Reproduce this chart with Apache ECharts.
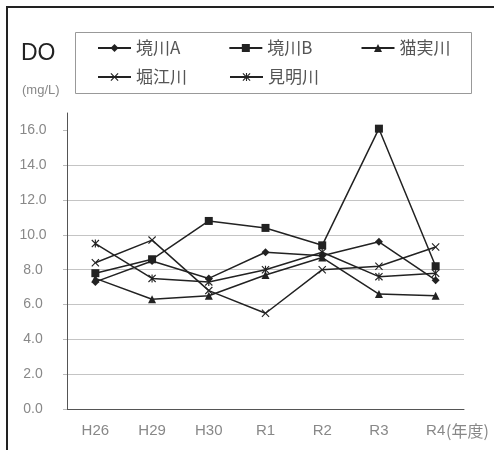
<!DOCTYPE html>
<html><head><meta charset="utf-8">
<script src="https://cdn.jsdelivr.net/npm/echarts@6/dist/echarts.min.js"></script>
<style>html,body{margin:0;padding:0;background:#fff}#c{width:494px;height:450px}</style>
</head><body><div id="c"></div>
<script>
const categories = ['H26', 'H29', 'H30', 'R1', 'R2', 'R3', 'R4'];
const sakaiA   = [7.3, 8.5, 7.5, 9.0, 8.8, 9.6, 7.4];
const sakaiB   = [7.8, 8.6, 10.8, 10.4, 9.4, 16.1, 8.2];
const nekozane = [7.5, 6.3, 6.5, 7.7, 8.7, 6.6, 6.5];
const horie    = [8.4, 9.7, 6.8, 5.5, 8.0, 8.2, 9.3];
const kenmyo   = [9.5, 7.5, 7.3, 8.0, 9.0, 7.6, 7.8];
const seriesNames = ['境川A', '境川B', '猫実川', '堀江川', '見明川'];
const yTicks = [0, 2, 4, 6, 8, 10, 12, 14, 16];
const xUnit = '(年度)';

const XPATH = 'path://M1,0L5,4L9,0L10,1L6,5L10,9L9,10L5,6L1,10L0,9L4,5L0,1Z';
const STARPATH = 'path://M1,0L5,4L9,0L10,1L6,5L10,9L9,10L5,6L1,10L0,9L4,5L0,1Z M4.3,0L5.7,0L5.7,10L4.3,10Z';

const LAT = "'Liberation Sans', Arial, sans-serif";
const CJK = "'Noto Sans CJK JP', 'Liberation Sans', sans-serif";
const lineColor = '#222';

function mk(name, data, symbol, size) {
  return {
    name, type: 'line', data, symbol, symbolSize: size, symbolKeepAspect: true,
    lineStyle: { color: lineColor, width: 1.5 },
    itemStyle: { color: lineColor },
    animation: false
  };
}

const legendText = { color: '#555', fontSize: 17, fontFamily: CJK, lineHeight: 18 };

const chart = echarts.init(document.getElementById('c'), null, { renderer: 'canvas' });
chart.setOption({
  backgroundColor: '#fff',
  animation: false,
  graphic: [
    { type: 'polyline', shape: { points: [[7, 450], [7, 7], [494, 7]] }, style: { stroke: '#222', lineWidth: 2, fill: null } },
    { type: 'rect', shape: { x: 75.5, y: 32.5, width: 396, height: 61 }, style: { stroke: '#999', lineWidth: 1, fill: null } },
    { type: 'text', x: 21, y: 54, style: { text: 'DO', font: "23px " + LAT, fill: '#222', textVerticalAlign: 'middle' } },
    { type: 'text', x: 22, y: 90, style: { text: '(mg/L)', font: "13px " + LAT, fill: '#888', textVerticalAlign: 'middle' } },
    { type: 'text', x: 446, y: 431, style: { text: xUnit, font: "16px " + CJK, fill: '#888', textVerticalAlign: 'middle' } }
  ],
  legend: [
    { data: seriesNames.slice(0, 3), left: 97, top: 39, padding: 0, itemWidth: 33, itemHeight: 10, itemGap: 48, textStyle: legendText },
    { data: seriesNames.slice(3), left: 97, top: 68, padding: 0, itemWidth: 33, itemHeight: 10, itemGap: 42, textStyle: legendText }
  ],
  grid: { left: 67, right: 30, top: 113, bottom: 41 },
  xAxis: {
    type: 'category', data: categories, boundaryGap: true,
    axisLine: { lineStyle: { color: '#555', width: 1 } },
    axisTick: { inside: true, length: 4, lineStyle: { color: '#555' } },
    axisLabel: { color: '#888', fontSize: 15, fontFamily: LAT, margin: 14 }
  },
  yAxis: {
    type: 'value', min: 0, max: 17, interval: 2,
    axisLine: { show: true, lineStyle: { color: '#555', width: 1 } },
    axisTick: { show: true, length: 4, customValues: yTicks, lineStyle: { color: '#bbb' } },
    axisLabel: { color: '#888', fontSize: 14, fontFamily: LAT, align: 'center', margin: 34, showMaxLabel: false,
      formatter: v => v.toFixed(1) },
    splitLine: { show: true, showMaxLine: false, lineStyle: { color: '#c4c4c4', width: 1 } }
  },
  series: [
    mk(seriesNames[0], sakaiA, 'diamond', 8),
    mk(seriesNames[1], sakaiB, 'rect', 8),
    mk(seriesNames[2], nekozane, 'triangle', 8),
    mk(seriesNames[3], horie, XPATH, 8),
    mk(seriesNames[4], kenmyo, STARPATH, 8)
  ]
});
</script></body></html>
